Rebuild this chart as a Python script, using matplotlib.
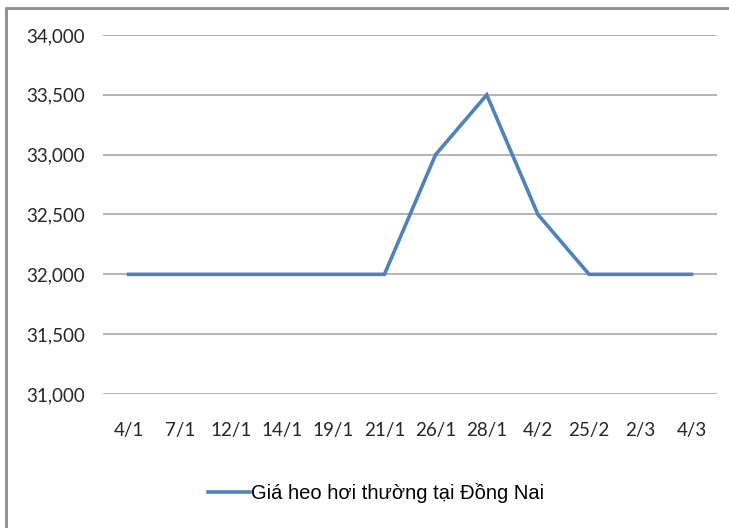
import matplotlib
matplotlib.use("Agg")
import matplotlib.pyplot as plt
from matplotlib.patches import Rectangle
from matplotlib.ticker import FuncFormatter

dates = ["4/1", "7/1", "12/1", "14/1", "19/1", "21/1", "26/1", "28/1",
         "4/2", "25/2", "2/3", "4/3"]
prices = [32000, 32000, 32000, 32000, 32000, 32000, 33000, 33500,
          32500, 32000, 32000, 32000]
series_name = "Giá heo hơi thường tại Đồng Nai"

fig = plt.figure(figsize=(7.29, 5.28), dpi=100)
ax = fig.add_axes([103 / 729, 1 - 394 / 528, (717 - 103) / 729, (394 - 35) / 528])

# outer frame, cut off on the right and bottom like the screenshot
fig.patches.append(Rectangle((6 / 729, -0.1), 1.2, 1.1 - 8 / 528,
                             transform=fig.transFigure, fill=False,
                             edgecolor="#8c8c8c", linewidth=2))

x = range(len(dates))
line, = ax.plot(x, prices, color="#4f81bd", linewidth=2.6,
                solid_joinstyle="miter", label=series_name)

ax.set_xlim(-0.5, len(dates) - 0.5)
ax.set_ylim(31000, 34000)
ax.set_yticks(range(31000, 34001, 500))
ax.yaxis.set_major_formatter(FuncFormatter(lambda v, p: f"{int(v):,}"))
ax.set_xticks(list(x))
ax.set_xticklabels(dates)

ax.grid(axis="y", color="#a6a6a6", linewidth=1.2)
ax.set_axisbelow(True)
for s in ax.spines.values():
    s.set_visible(False)
ax.tick_params(axis="y", length=0, pad=13, labelsize=13.5, labelcolor="#262626")
ax.tick_params(axis="x", length=0, pad=20, labelsize=13.5, labelcolor="#262626")
for lab in ax.get_xticklabels() + ax.get_yticklabels():
    lab.set_family("Lato")

fig.legend(handles=[line], loc="center", bbox_to_anchor=(376 / 729, 1 - 493 / 528),
           frameon=False, handlelength=2.1, handletextpad=0.05,
           prop={"family": "Liberation Sans", "size": 14.5})

fig.savefig("out.png", dpi=100)
